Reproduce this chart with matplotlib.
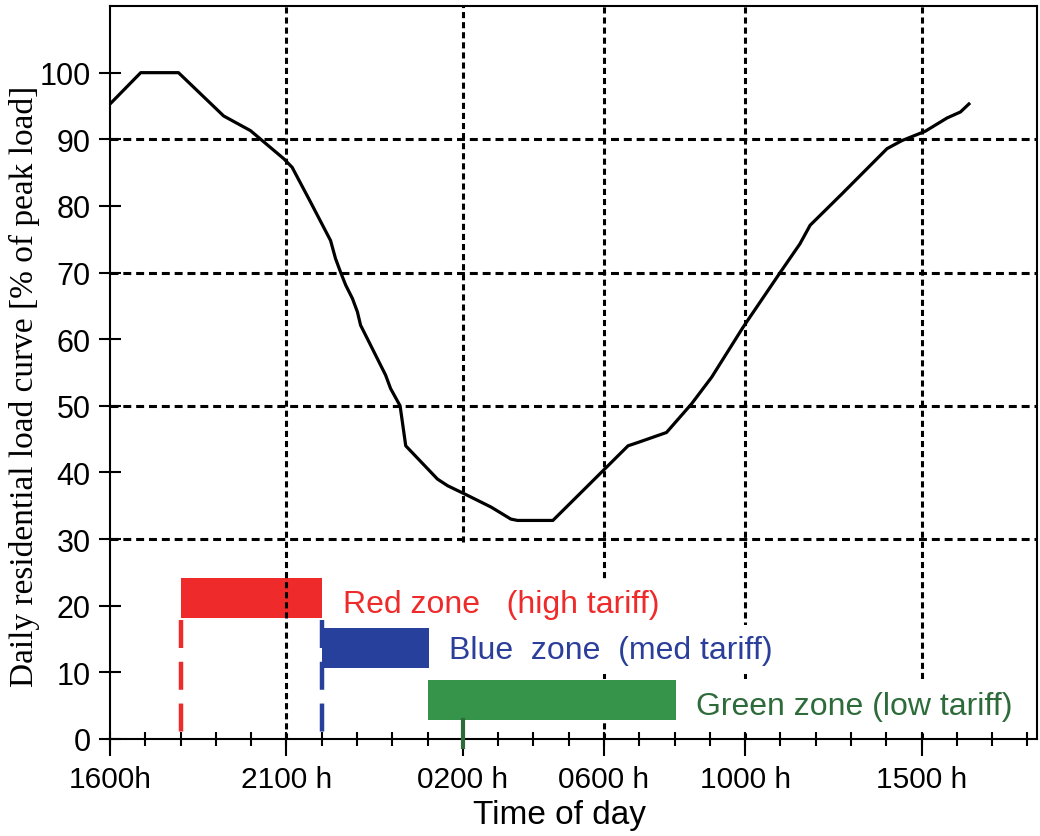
import matplotlib
matplotlib.use("Agg")
import matplotlib.pyplot as plt

# load curve, hours after 1600h vs % of peak load
hours = [0, 0.87, 1.94, 3.22, 3.98, 4.92, 5.16, 5.68, 6.25, 6.39, 6.53, 6.68, 6.87,
         7.01, 7.10, 7.29, 7.81, 7.95, 8.22, 8.38, 9.28, 9.57, 10.04, 10.8, 11.36,
         11.55, 12.55, 13.35, 14.11, 14.68, 14.96, 15.77, 16.48, 17.05, 17.94,
         18.99, 19.55, 19.84, 20.74, 22.02, 22.44, 23.1, 23.72, 24.1, 24.34]
load = [95.3, 100, 100, 93.5, 91.3, 87.1, 85.8, 80.6, 74.8, 72.1, 70.1, 68.1, 66.1,
        64.1, 62.1, 60.1, 54.6, 52.6, 50.0, 44.0, 39.0, 38.0, 36.8, 34.8, 33.0,
        32.8, 32.8, 37.0, 41.0, 44.0, 44.5, 46.0, 50.3, 54.3, 61.8,
        70.0, 74.3, 77.1, 81.8, 88.6, 89.8, 91.2, 93.2, 94.1, 95.3]

# tariff zones
zone_names = ["Red zone   (high tariff)", "Blue  zone  (med tariff)", "Green zone (low tariff)"]
zone_start = [2, 6, 9]
zone_end = [6, 9.05, 16.05]
zone_bottom = [18.2, 10.7, 2.9]
zone_height = [6, 6, 6]
zone_marker = [2, 6, 10]
zone_colors = ["#ee2a2a", "#27409b", "#35944a"]
text_colors = ["#ee2a2a", "#2b3f9a", "#2e6b3a"]

tick_hours = [0, 5, 10, 14, 18, 23]
tick_labels = ["1600h", "2100 h", "0200 h", "0600 h", "1000 h", "1500 h"]
hgrid = [30, 50, 70, 90]
vgrid_low = [0, 29.5, 0, 0, 0]

XMAX, YMAX = 26.26, 110

fig = plt.figure(figsize=(10.4, 8.37), dpi=100)
ax = fig.add_axes([0.1058, 0.1159, 0.891, 0.8757])
ax.set_xlim(0, XMAX)
ax.set_ylim(0, YMAX)

# grid
for y in hgrid:
    ax.plot([0, XMAX], [y, y], color="black", lw=2.2, ls=(0, (2.6, 1.6)), zorder=2)
for x, lo in zip(tick_hours[1:], vgrid_low):
    ax.plot([x, x], [lo, YMAX], color="black", lw=2.2, ls=(0, (2.0, 1.3)), zorder=2)

# zone bars
for i in range(3):
    z = 1.5 if i == 0 else 4
    ax.bar(zone_start[i], zone_height[i], width=zone_end[i] - zone_start[i],
           bottom=zone_bottom[i], align="edge", color=zone_colors[i], zorder=z)

# zone markers
for i in range(2):
    ax.plot([zone_marker[i], zone_marker[i]], [zone_bottom[0] - 0.4, 0], color=zone_colors[i],
            lw=3.2, ls=(0, (6.3, 3.1)), solid_capstyle="butt", dash_capstyle="butt", zorder=3)
ax.plot([zone_marker[2], zone_marker[2]], [-1.2, zone_bottom[2]], color=text_colors[2],
        lw=3.0, clip_on=False, zorder=6)

# zone labels
text_x = [6.6, 9.6, 16.6]
text_y = [20.3, 13.4, 4.9]
for i in range(3):
    ax.text(text_x[i], text_y[i], zone_names[i], color=text_colors[i], fontsize=23,
            family="Liberation Sans", ha="left", va="center", zorder=3.5,
            bbox=dict(boxstyle="square,pad=0.3", fc="white", ec="none"))

ax.plot(hours, load, color="black", lw=2.3, zorder=5)

# axes styling
for s in ax.spines.values():
    s.set_linewidth(1.5)
ax.set_xticks(tick_hours)
ax.set_xticklabels(tick_labels)
ax.set_xticks(range(0, 27), minor=True)
ax.xaxis.remove_overlapping_locs = False
ax.tick_params(axis="x", which="major", direction="out", length=12, width=1.5, pad=7,
               labelsize=21.5)
ax.tick_params(axis="x", which="minor", direction="inout", length=10, width=1.5)
ax.set_yticks(range(0, 101, 10))
ax.tick_params(axis="y", direction="inout", length=16, width=1.5, pad=6, labelsize=22)
for lab in ax.get_xticklabels() + ax.get_yticklabels():
    lab.set_family("Liberation Sans")

ax.set_xlabel("Time of day", fontsize=24, family="Liberation Sans")
ax.xaxis.set_label_coords(0.485, -0.082)
ax.set_ylabel("Daily residential load curve [% of peak load]", fontsize=24,
              family="Liberation Serif")
ax.yaxis.set_label_coords(-0.076, 0.482)

fig.savefig("out.png", dpi=100)
